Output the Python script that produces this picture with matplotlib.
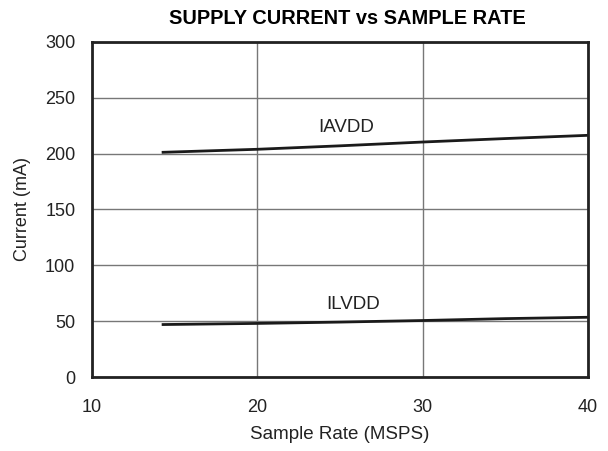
import matplotlib
matplotlib.use('Agg')
import matplotlib.pyplot as plt

plt.rcParams['font.family'] = ['Liberation Sans', 'DejaVu Sans']

# sample rate (MSPS) and supply currents (mA)
rate = [14.3, 20, 25, 30, 35, 40]
iavdd = [201.2, 203.9, 207.0, 210.4, 213.5, 216.4]
ilvdd = [47.0, 48.0, 49.2, 50.6, 52.3, 53.5]

x_ticks = [10, 20, 30, 40]
y_ticks = [0, 50, 100, 150, 200, 250, 300]

fig = plt.figure(figsize=(6.08, 4.51), dpi=100)
ax = fig.add_axes([0.1513, 0.164, 0.8157, 0.743])

ax.plot(rate, iavdd, color='#1a1a1a', lw=2)
ax.plot(rate, ilvdd, color='#1a1a1a', lw=2)

ax.text(25.4, 223, 'IAVDD', ha='center', va='center', fontsize=13.5, color='#222222')
ax.text(25.8, 64.5, 'ILVDD', ha='center', va='center', fontsize=13.5, color='#222222')

ax.set_xlim(10, 40)
ax.set_ylim(0, 300)
ax.set_xticks(x_ticks)
ax.set_yticks(y_ticks)
ax.grid(True, color='#777777', lw=1)
ax.set_axisbelow(True)
ax.tick_params(length=0, labelsize=13, colors='#222222')
ax.tick_params(axis='x', pad=16)
ax.tick_params(axis='y', pad=12)
for s in ax.spines.values():
    s.set_linewidth(2)
    s.set_color('#222222')

ax.set_xlabel('Sample Rate (MSPS)', fontsize=13.5, color='#222222', labelpad=7)
ax.set_ylabel('Current (mA)', fontsize=13, color='#222222', labelpad=10)
ax.set_title('SUPPLY CURRENT vs SAMPLE RATE', fontsize=14.4, fontweight='bold',
             pad=13, x=0.514)

fig.savefig('out.png', dpi=100)
